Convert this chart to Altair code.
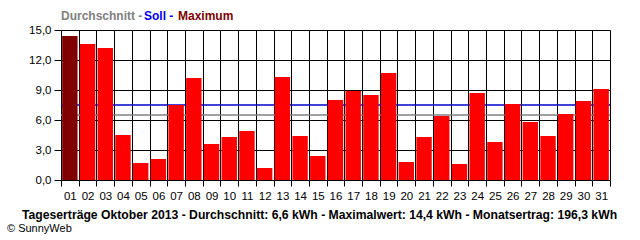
import altair as alt
import pandas as pd

days = [f"{i:02d}" for i in range(1, 32)]
values = [14.4, 13.6, 13.2, 4.5, 1.7, 2.1, 7.5, 10.2, 3.6, 4.3, 4.9, 1.2, 10.3, 4.4, 2.4,
          8.0, 8.9, 8.5, 10.7, 1.8, 4.3, 6.4, 1.6, 8.7, 3.8, 7.6, 5.8, 4.4, 6.6, 7.9, 9.1]
kinds = ["Maximum"] + ["Tag"] * 30
avg_line = 6.5
soll_line = 7.5
y_ticks = [0, 3, 6, 9, 12, 15]

legend_parts = ["Durchschnitt -", "Soll -", "Maximum"]
legend_colors = ["#808080", "#0000ff", "#800000"]
footer = "Tageserträge Oktober 2013 - Durchschnitt: 6,6 kWh - Maximalwert: 14,4 kWh - Monatsertrag: 196,3 kWh"
copyright_text = "© SunnyWeb"

df = pd.DataFrame({"day": days, "value": values, "kind": kinds})

W, H = 549, 150
FONT = "Liberation Sans"

xscale = alt.Scale(domain=days, paddingInner=0, paddingOuter=0)
yscale = alt.Scale(domain=[0, 15], nice=False)

yaxis = alt.Axis(title=None, values=y_ticks, grid=True, gridColor="black",
                 gridOpacity=1, gridWidth=1, tickColor="black", tickSize=7,
                 domainColor="black", labelFont=FONT, labelFontSize=11.5,
                 labelColor="black", labelPadding=3, labelOverlap=False,
                 labelExpr="replace(format(datum.value, '.1f'), '.', ',')")
xaxis = alt.Axis(title=None, tickBand="extent",
                 grid=True, gridColor="black", gridOpacity=1, gridWidth=1,
                 tickColor="black", tickSize=6, domainColor="black",
                 labelAngle=0, labelFont=FONT, labelFontSize=11.5,
                 labelColor="black", labelPadding=4, labelOverlap=False)

avg_rule = alt.Chart(pd.DataFrame({"v": [avg_line]})).mark_rule(
    strokeWidth=1.3, color="#808080").encode(y=alt.Y("v:Q", scale=yscale, axis=yaxis))
soll_rule = alt.Chart(pd.DataFrame({"v": [soll_line]})).mark_rule(
    strokeWidth=1.3, color="#0000cc").encode(y=alt.Y("v:Q", scale=yscale, axis=yaxis))

bars = alt.Chart(df).mark_bar(strokeWidth=0, width=alt.RelativeBandSize(0.87)).encode(
    x=alt.X("day:N", scale=xscale, sort=days, axis=xaxis),
    y=alt.Y("value:Q", scale=yscale, axis=yaxis),
    fill=alt.condition(alt.datum.kind == "Maximum", alt.value("#800000"), alt.value("#ff0000")),
)

leg_x = [0, 83, 117]
texts = []
for part, col, xx in zip(legend_parts, legend_colors, leg_x):
    texts.append(alt.Chart(pd.DataFrame({"t": [part]})).mark_text(
        align="left", baseline="alphabetic", font=FONT, fontSize=12, fontWeight="bold", color=col
    ).encode(x=alt.value(xx), y=alt.value(-10), text="t:N"))

foot = alt.Chart(pd.DataFrame({"t": [footer]})).mark_text(
    align="left", baseline="alphabetic", font=FONT, fontSize=12.2, fontWeight="bold", color="black"
).encode(x=alt.value(-39), y=alt.value(41 + H - 2), text="t:N")

copy = alt.Chart(pd.DataFrame({"t": [copyright_text]})).mark_text(
    align="left", baseline="alphabetic", font=FONT, fontSize=11, color="black"
).encode(x=alt.value(-54), y=alt.value(54 + H - 2), text="t:N")

chart = alt.layer(avg_rule, soll_rule, bars, *texts, foot, copy).properties(
    width=W, height=H,
    autosize=alt.AutoSizeParams(type="none"),
    padding={"left": 61, "top": 30, "right": 30, "bottom": 60},
).configure_view(stroke="black", strokeWidth=1).configure(background="white")

chart.save("out.html", embed_options={"renderer": "svg", "actions": False})
